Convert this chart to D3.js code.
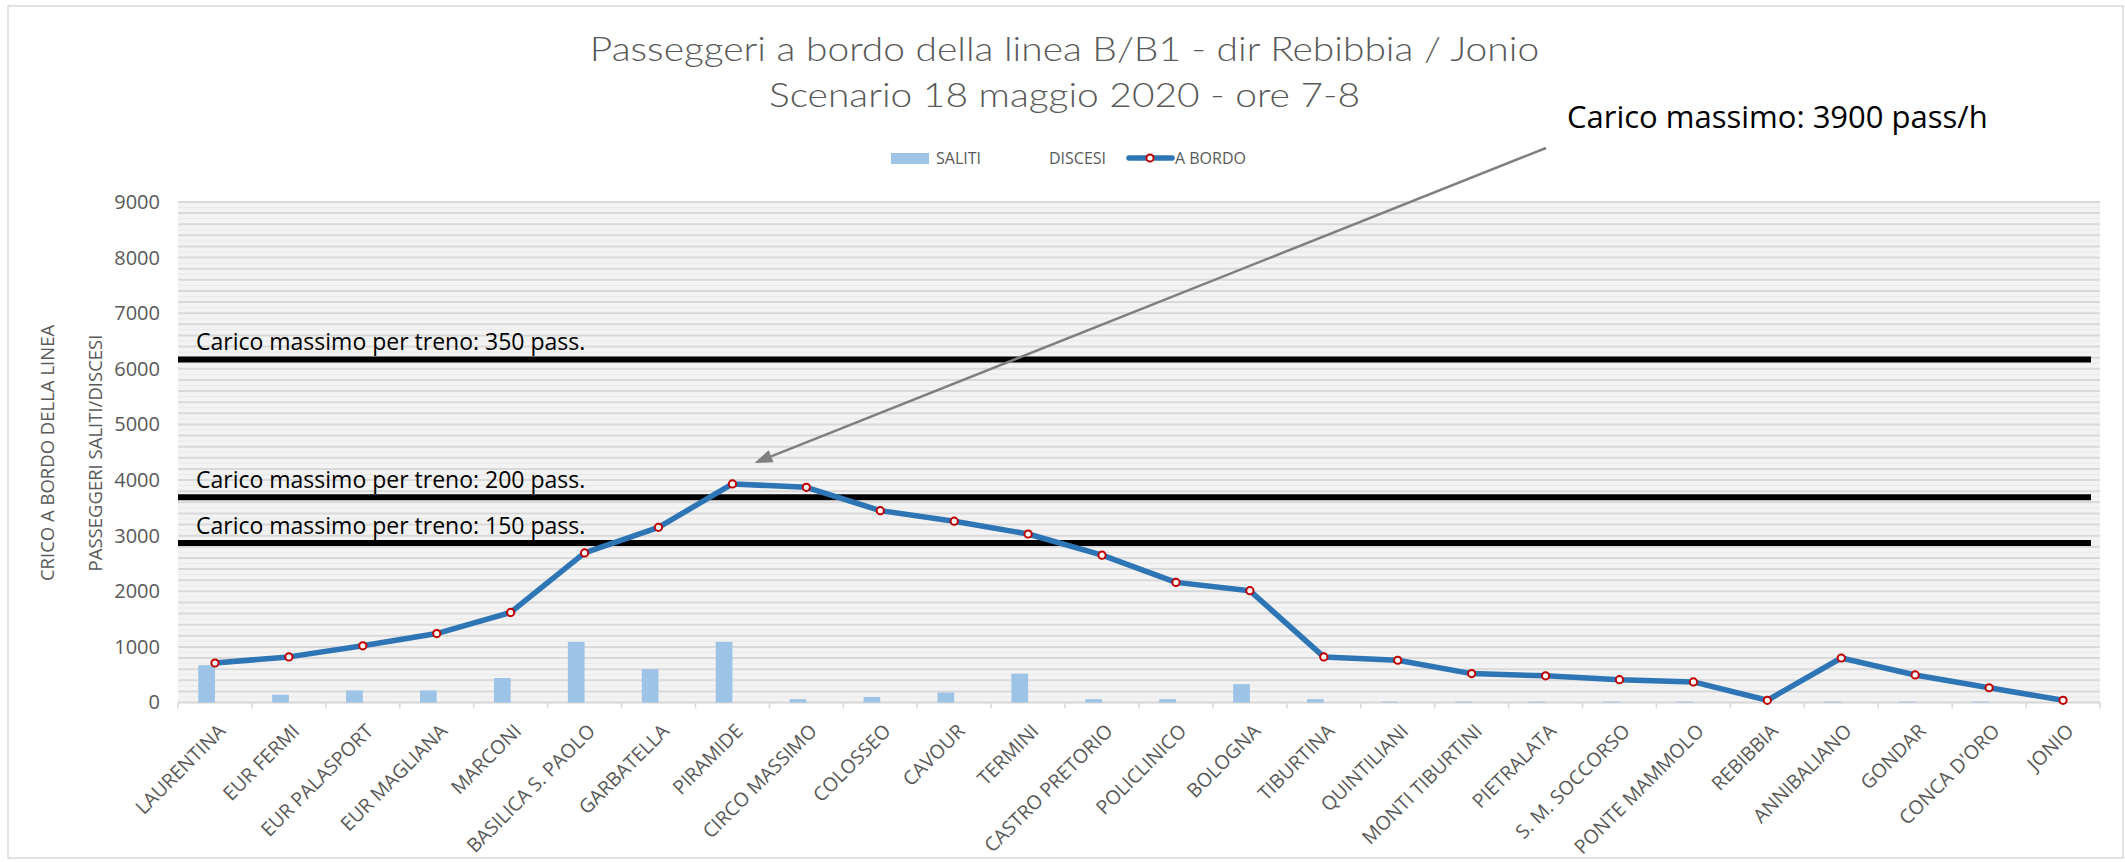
<!DOCTYPE html>
<html>
<head>
<meta charset="utf-8">
<script src="https://cdn.jsdelivr.net/npm/d3@7"></script>
<style>
  body { margin: 0; background: #fff; }
  svg { display: block; }
</style>
</head>
<body>
<div id="chart"></div>
<script>
(function () {
  'use strict';

  // Stations of line B/B1, direction Rebibbia / Jonio
  const stations = [
    'LAURENTINA', 'EUR FERMI', 'EUR PALASPORT', 'EUR MAGLIANA', 'MARCONI',
    'BASILICA S. PAOLO', 'GARBATELLA', 'PIRAMIDE', 'CIRCO MASSIMO', 'COLOSSEO',
    'CAVOUR', 'TERMINI', 'CASTRO PRETORIO', 'POLICLINICO', 'BOLOGNA',
    'TIBURTINA', 'QUINTILIANI', 'MONTI TIBURTINI', 'PIETRALATA', 'S. M. SOCCORSO',
    'PONTE MAMMOLO', 'REBIBBIA', 'ANNIBALIANO', 'GONDAR', "CONCA D'ORO", 'JONIO'
  ];

  const saliti = [
    670, 140, 215, 215, 440, 1090, 600, 1090, 60, 100,
    180, 520, 60, 60, 330, 60, 15, 15, 15, 15,
    15, 0, 15, 15, 15, 0
  ];

  const aBordo = [
    710, 820, 1020, 1240, 1620, 2690, 3150, 3930, 3870, 3450,
    3260, 3030, 2650, 2160, 2010, 820, 760, 520, 480, 410,
    370, 40, 800, 495, 265, 40
  ];

  const yTicks = [0, 1000, 2000, 3000, 4000, 5000, 6000, 7000, 8000, 9000];

  const capacityLabels = [
    'Carico massimo per treno: 350 pass.',
    'Carico massimo per treno: 200 pass.',
    'Carico massimo per treno: 150 pass.'
  ];
  const capacityValues = [6170, 3690, 2870];

  const titleLines = [
    'Passeggeri a bordo della linea B/B1 - dir Rebibbia / Jonio',
    'Scenario 18 maggio 2020 - ore 7-8'
  ];
  const peakNote = 'Carico massimo: 3900 pass/h';
  const yTitles = ['CRICO A BORDO DELLA LINEA', 'PASSEGGERI SALITI/DISCESI'];

  const W = 2125, H = 862;
  const plot = { left: 178, right: 2100, top: 202, bottom: 702.5 };
  const FONT = '"Open Sans", "Noto Sans", sans-serif';
  const TEXT_GREY = '#595959';
  const BLUE = '#2e75b6';
  const BAR = '#9dc3e6';
  const RED = '#c00000';

  const svg = d3.select('#chart').append('svg')
    .attr('width', W)
    .attr('height', H)
    .style('font-family', FONT);

  // chart area
  svg.append('rect')
    .attr('x', 8).attr('y', 6)
    .attr('width', W - 10).attr('height', H - 10)
    .attr('fill', '#fff')
    .attr('stroke', '#d9d9d9')
    .attr('stroke-width', 1.5);

  const x = d3.scaleBand().domain(stations).range([plot.left, plot.right]);
  const y = d3.scaleLinear().domain([0, 9000]).range([plot.bottom, plot.top]);
  const cx = function (s) { return x(s) + x.bandwidth() / 2; };

  // plot background + dense gridlines
  svg.append('rect')
    .attr('x', plot.left).attr('y', plot.top)
    .attr('width', plot.right - plot.left).attr('height', plot.bottom - plot.top)
    .attr('fill', '#f3f3f3');

  svg.append('g').selectAll('line')
    .data(d3.range(0, 9001, 100))
    .join('line')
    .attr('x1', plot.left).attr('x2', plot.right)
    .attr('y1', function (d) { return y(d); })
    .attr('y2', function (d) { return y(d); })
    .attr('stroke', function (d) { return d % 200 === 0 ? '#d9d9d9' : '#e9e9e9'; })
    .attr('stroke-width', function (d) { return d % 200 === 0 ? 2 : 1; });

  // x axis line and ticks at band boundaries
  svg.append('line')
    .attr('x1', plot.left).attr('x2', plot.right)
    .attr('y1', plot.bottom).attr('y2', plot.bottom)
    .attr('stroke', '#d9d9d9').attr('stroke-width', 1.5);

  svg.append('g').selectAll('line')
    .data(stations.map(function (s) { return x(s); }).concat([plot.right]))
    .join('line')
    .attr('x1', function (d) { return d; }).attr('x2', function (d) { return d; })
    .attr('y1', plot.bottom).attr('y2', plot.bottom + 6)
    .attr('stroke', '#d9d9d9').attr('stroke-width', 1.5);

  // y axis
  const yAxis = svg.append('g')
    .attr('transform', 'translate(' + (plot.left - 18) + ',0)')
    .call(d3.axisLeft(y).tickValues(yTicks).tickFormat(d3.format('d')).tickSize(0).tickPadding(0));
  yAxis.select('.domain').remove();
  yAxis.selectAll('text')
    .attr('font-size', 20)
    .attr('font-family', FONT)
    .attr('fill', TEXT_GREY);

  // x axis labels
  const xAxis = svg.append('g')
    .attr('transform', 'translate(0,' + plot.bottom + ')')
    .call(d3.axisBottom(x).tickSize(0));
  xAxis.select('.domain').remove();
  xAxis.selectAll('text')
    .attr('font-size', 19.5)
    .attr('font-family', FONT)
    .attr('fill', TEXT_GREY)
    .attr('text-anchor', 'end')
    .attr('x', 0).attr('y', 0).attr('dy', '0.35em')
    .attr('transform', 'translate(7,25) rotate(-45)');

  // y axis titles
  svg.append('g').selectAll('text')
    .data(yTitles)
    .join('text')
    .attr('transform', function (d, i) { return 'translate(' + (54 + i * 48) + ',453) rotate(-90)'; })
    .attr('text-anchor', 'middle')
    .attr('font-size', 18.5)
    .attr('fill', TEXT_GREY)
    .text(function (d) { return d; });

  // SALITI bars
  const barW = x.bandwidth() * 0.226;
  svg.append('g').selectAll('rect')
    .data(saliti)
    .join('rect')
    .attr('x', function (d, i) { return cx(stations[i]) - barW; })
    .attr('y', function (d) { return y(d); })
    .attr('width', barW)
    .attr('height', function (d) { return y(0) - y(d); })
    .attr('fill', BAR);

  // capacity thresholds
  svg.append('g').selectAll('line')
    .data(capacityValues)
    .join('line')
    .attr('x1', plot.left).attr('x2', plot.right - 9)
    .attr('y1', function (d) { return y(d); })
    .attr('y2', function (d) { return y(d); })
    .attr('stroke', '#000').attr('stroke-width', 6);

  svg.append('g').selectAll('text')
    .data(capacityValues)
    .join('text')
    .attr('x', plot.left + 18)
    .attr('y', function (d) { return y(d) - 9; })
    .attr('font-size', 23)
    .attr('fill', '#000')
    .text(function (d, i) { return capacityLabels[i]; });

  // A BORDO line
  const line = d3.line()
    .x(function (d, i) { return cx(stations[i]); })
    .y(function (d) { return y(d); });

  svg.append('path')
    .datum(aBordo)
    .attr('d', line)
    .attr('fill', 'none')
    .attr('stroke', BLUE)
    .attr('stroke-width', 5.5)
    .attr('stroke-linejoin', 'round');

  svg.append('g').selectAll('circle')
    .data(aBordo)
    .join('circle')
    .attr('cx', function (d, i) { return cx(stations[i]); })
    .attr('cy', function (d) { return y(d); })
    .attr('r', 3.6)
    .attr('fill', '#fff')
    .attr('stroke', RED)
    .attr('stroke-width', 2);

  // title (the original is a little wider than the font, so stretch it)
  svg.append('g').selectAll('text')
    .data(titleLines)
    .join('text')
    .attr('transform', function (d, i) { return 'translate(' + (W / 2 + 2) + ',' + (61 + i * 46) + ') scale(1.18,1)'; })
    .attr('text-anchor', 'middle')
    .attr('font-family', 'Lato, "Open Sans", sans-serif')
    .attr('font-weight', 300)
    .attr('font-size', 33)
    .attr('fill', TEXT_GREY)
    .text(function (d) { return d; });

  // legend
  const legend = svg.append('g').attr('font-size', 16).attr('fill', TEXT_GREY);
  legend.append('rect')
    .attr('x', 891).attr('y', 153).attr('width', 38).attr('height', 11)
    .attr('fill', BAR);
  legend.append('text').attr('x', 936).attr('y', 164).text('SALITI');
  legend.append('text').attr('x', 1049).attr('y', 164).text('DISCESI');
  legend.append('line')
    .attr('x1', 1129).attr('x2', 1172).attr('y1', 158).attr('y2', 158)
    .attr('stroke', BLUE).attr('stroke-width', 5.5).attr('stroke-linecap', 'round');
  legend.append('circle')
    .attr('cx', 1150).attr('cy', 158).attr('r', 3.6)
    .attr('fill', '#fff').attr('stroke', RED).attr('stroke-width', 2);
  legend.append('text').attr('x', 1175).attr('y', 164).text('A BORDO');

  // peak annotation with arrow
  const peakIdx = aBordo.indexOf(d3.max(aBordo));
  const tip = [cx(stations[peakIdx]) + 22, y(aBordo[peakIdx]) - 21];
  const start = [1546, 148];

  svg.append('text')
    .attr('x', 1567).attr('y', 128)
    .attr('font-size', 31)
    .attr('fill', '#000')
    .text(peakNote);

  const ang = Math.atan2(tip[1] - start[1], tip[0] - start[0]);
  const headLen = 18, headHalf = 6.5;
  const base = [tip[0] - headLen * Math.cos(ang), tip[1] - headLen * Math.sin(ang)];
  svg.append('line')
    .attr('x1', start[0]).attr('y1', start[1])
    .attr('x2', base[0]).attr('y2', base[1])
    .attr('stroke', '#7f7f7f').attr('stroke-width', 2.5);
  svg.append('path')
    .attr('d', 'M' + tip[0] + ',' + tip[1] +
      'L' + (base[0] + headHalf * Math.sin(ang)) + ',' + (base[1] - headHalf * Math.cos(ang)) +
      'L' + (base[0] - headHalf * Math.sin(ang)) + ',' + (base[1] + headHalf * Math.cos(ang)) + 'Z')
    .attr('fill', '#7f7f7f');
})();
</script>
</body>
</html>
